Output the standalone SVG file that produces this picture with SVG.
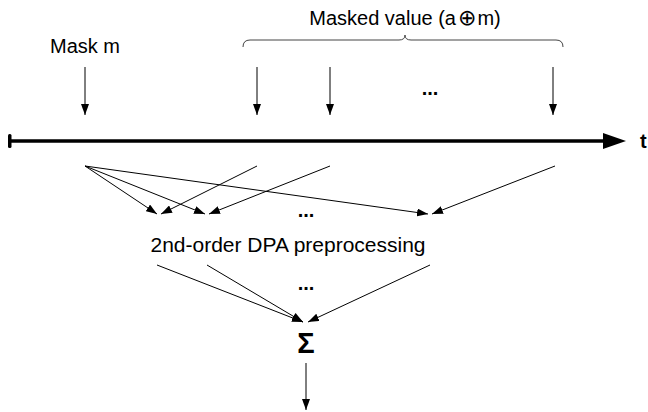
<svg xmlns="http://www.w3.org/2000/svg" width="648" height="412" viewBox="0 0 648 412">
<style>
text{font-family:"Liberation Sans",Arial,sans-serif;fill:#000}
.lbl{font-size:20px}
.b{font-weight:bold}
.ln{stroke:#000;stroke-width:1;fill:none}
.arr{marker-end:url(#ah)}
.op{font-family:"DejaVu Sans",sans-serif;font-size:22px}
</style>
<defs>
<marker id="ah" markerUnits="userSpaceOnUse" markerWidth="11" markerHeight="8" refX="11" refY="4" orient="auto">
<path d="M0,0 L11,4 L0,8 z" fill="#000"/>
</marker>
</defs>
<rect width="648" height="412" fill="#fff"/>
<g id="masked-label"><text class="lbl" x="405" y="25" text-anchor="middle">Masked value (a<tspan class="op" dx="2">⊕</tspan><tspan dx="1">m)</tspan></text></g>
<g id="brace"><path d="M243,47 Q243,40 250,40 L399,40 Q405,40 405,35 Q405,40 411,40 L556,40 Q563,40 563,47" fill="none" stroke="#444" stroke-width="1"/></g>
<g id="mask-label"><text class="lbl" x="85" y="53" text-anchor="middle">Mask m</text></g>
<g id="dots-top"><text class="lbl b" x="430" y="95" text-anchor="middle">...</text></g>
<g id="timeline">
<line x1="10" y1="141" x2="606" y2="141" stroke="#000" stroke-width="3.5"/>
<rect x="8" y="134" width="3.5" height="14" rx="1.5" fill="#000"/>
<polygon points="603,133 626,141 603,149" fill="#000"/>
</g>
<g id="t-label"><text class="lbl b" x="640" y="148">t</text></g>
<g id="dots-mid"><text class="lbl b" x="306" y="217" text-anchor="middle">...</text></g>
<g id="preprocessing"><text style="font-size:21px" x="288" y="252" text-anchor="middle">2nd-order DPA preprocessing</text></g>
<g id="dots-bottom"><text class="lbl b" x="306" y="290" text-anchor="middle">...</text></g>
<g id="sigma"><text class="b" style="font-size:29px" x="306" y="353" text-anchor="middle">Σ</text></g>
<g id="connectors">
<line class="ln arr" x1="85" y1="67" x2="85" y2="115"/>
<line class="ln arr" x1="257" y1="67" x2="257" y2="115"/>
<line class="ln arr" x1="330" y1="67" x2="330" y2="115"/>
<line class="ln arr" x1="553" y1="67" x2="553" y2="115"/>
<line class="ln arr" x1="85" y1="166" x2="157" y2="214"/>
<line class="ln arr" x1="85" y1="166" x2="205" y2="214"/>
<line class="ln arr" x1="85" y1="166" x2="428" y2="214"/>
<line class="ln arr" x1="257" y1="166" x2="161" y2="214"/>
<line class="ln arr" x1="330" y1="166" x2="209" y2="214"/>
<line class="ln arr" x1="555" y1="166" x2="432" y2="214"/>
<line class="ln arr" x1="157" y1="265" x2="303" y2="322"/>
<line class="ln arr" x1="207" y1="265" x2="303" y2="322"/>
<line class="ln arr" x1="430" y1="265" x2="308" y2="322"/>
<line class="ln arr" x1="306" y1="363" x2="306" y2="410"/>
</g>
</svg>
